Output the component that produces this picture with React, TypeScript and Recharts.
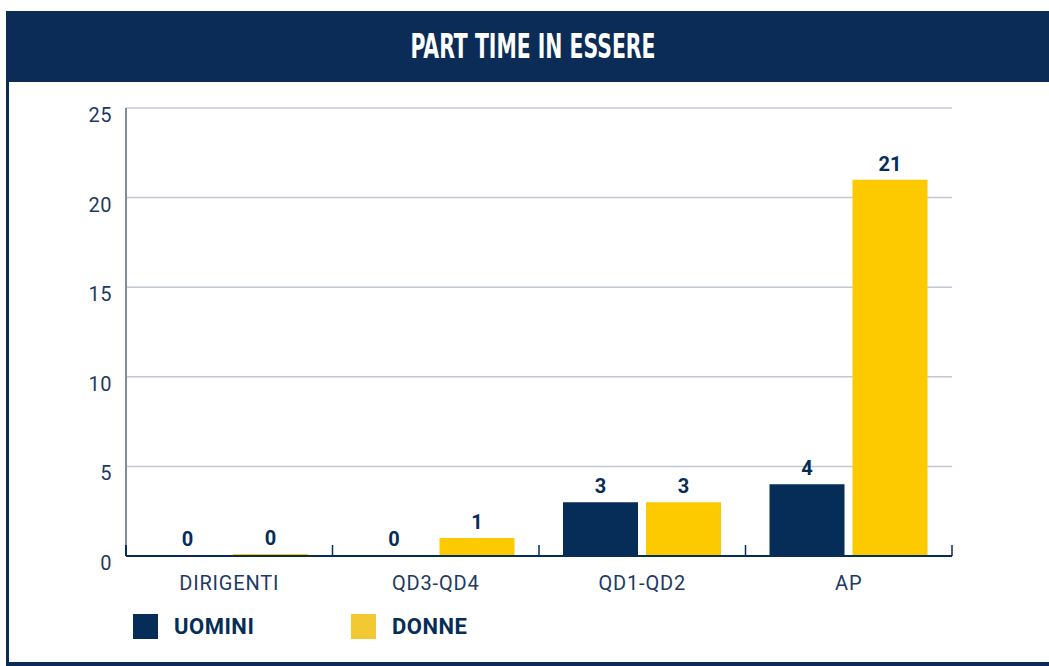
import React from 'react';
import { BarChart, Bar, XAxis, YAxis, CartesianGrid, LabelList } from 'recharts';

const categories = ['DIRIGENTI', 'QD3-QD4', 'QD1-QD2', 'AP'];
const uomini = [0, 0, 3, 4];
const donne = [0, 1, 3, 21];
const yTicks = [0, 5, 10, 15, 20, 25];
const title = 'PART TIME IN ESSERE';
const seriesNames = ['UOMINI', 'DONNE'];

const NAVY = '#062d57';
const HEADER = '#0a2c56';
const YELLOW = '#fdca00';
const LEGEND_YELLOW = '#f2c933';
const TEXT = '#1d3a62';
const FONT = 'Roboto, "DejaVu Sans", sans-serif';

const data = categories.map((c, i) => ({ cat: c, uomini: uomini[i], donne: donne[i] }));

const XTick = (props: any) => {
  const { x, y, payload, index } = props;
  const off = payload && payload.offset != null ? payload.offset : 103.25;
  const axisY = y - 27;
  return (
    <g>
      <text x={x} y={y} textAnchor="middle" dominantBaseline="central" fill={TEXT} fontSize={20} letterSpacing={0.8} fontFamily={FONT}>
        {payload.value}
      </text>
      <line x1={x + off} x2={x + off} y1={axisY - 11} y2={axisY} stroke={NAVY} strokeWidth={1.5} />
      {index === 0 ? (
        <line x1={x - off} x2={x - off} y1={axisY - 11} y2={axisY} stroke={NAVY} strokeWidth={2} />
      ) : null}
    </g>
  );
};

const YTick = (props: any) => {
  const { x, y, payload } = props;
  return (
    <text x={x} y={y + 7} textAnchor="end" dominantBaseline="central" fill={TEXT} fontSize={20} letterSpacing={0.5} fontFamily={FONT}>
      {payload.value}
    </text>
  );
};

const legendColors = [NAVY, LEGEND_YELLOW];
const legendLeft = [133, 351];

export default function App() {
  return (
    <div style={{ position: 'absolute', left: 0, top: 0, width: 1049, height: 666, background: '#fff', overflow: 'hidden' }}>
      <div style={{ position: 'absolute', left: 6, top: 11, width: 1043, height: 71, background: HEADER }}>
        <svg width={1043} height={71} style={{ display: 'block' }}>
          <text
            x={527}
            y={35}
            textAnchor="middle"
            dominantBaseline="central"
            fill="#ffffff"
            fontSize={34}
            fontWeight="bold"
            fontFamily={'"Liberation Sans Narrow", "DejaVu Sans Condensed", sans-serif'}
            textLength={245}
            lengthAdjust="spacingAndGlyphs"
          >
            {title}
          </text>
        </svg>
      </div>
      <div style={{ position: 'absolute', left: 6, top: 82, width: 3, height: 584, background: HEADER }} />
      <div style={{ position: 'absolute', left: 6, top: 662, width: 1043, height: 4, background: HEADER }} />
      <div style={{ position: 'absolute', left: 0, top: 0 }}>
        <BarChart
          width={1049}
          height={666}
          data={data}
          margin={{ top: 108, right: 97, bottom: 70, left: 0 }}
          barGap={8}
          barSize={75}
        >
          <CartesianGrid vertical={false} stroke="#c3c8d9" strokeWidth={1.5} />
          <XAxis
            dataKey="cat"
            height={40}
            tickLine={false}
            tickSize={0}
            tickMargin={27}
            axisLine={{ stroke: NAVY, strokeWidth: 2 }}
            tick={<XTick />}
            interval={0}
          />
          <YAxis
            width={126}
            domain={[0, 25]}
            ticks={yTicks}
            tickLine={false}
            tickSize={0}
            tickMargin={14}
            axisLine={{ stroke: '#7d8ca6', strokeWidth: 2 }}
            tick={<YTick />}
          />
          <Bar dataKey="uomini" name={seriesNames[0]} fill={NAVY} minPointSize={1} isAnimationActive={false}>
            <LabelList dataKey="uomini" position="top" offset={9} fill={NAVY} fontSize={20} fontWeight="bold" fontFamily={FONT} />
          </Bar>
          <Bar dataKey="donne" name={seriesNames[1]} fill={YELLOW} minPointSize={2} isAnimationActive={false}>
            <LabelList dataKey="donne" position="top" offset={9} fill={NAVY} fontSize={20} fontWeight="bold" fontFamily={FONT} />
          </Bar>
        </BarChart>
      </div>
      {seriesNames.map((n, i) => (
        <div key={n} style={{ position: 'absolute', left: legendLeft[i], top: 614, height: 25, display: 'flex', alignItems: 'center' }}>
          <div style={{ width: 25, height: 25, background: legendColors[i] }} />
          <span style={{ marginLeft: 16, fontFamily: FONT, fontWeight: 'bold', fontSize: 22, letterSpacing: 0.5, color: NAVY, lineHeight: '25px' }}>{n}</span>
        </div>
      ))}
    </div>
  );
}
